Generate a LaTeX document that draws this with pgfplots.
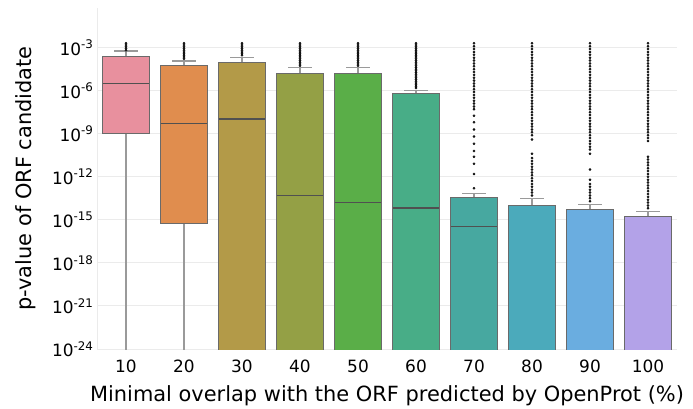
\documentclass[border=0pt]{standalone}
\usepackage{fontspec}
\setmainfont{DejaVu Sans}
\usepackage{pgfplots}
\pgfplotsset{compat=1.18}
\definecolor{c1}{HTML}{E8909E}
\definecolor{c2}{HTML}{E08D4E}
\definecolor{c3}{HTML}{B39A48}
\definecolor{c4}{HTML}{94A045}
\definecolor{c5}{HTML}{5AAE48}
\definecolor{c6}{HTML}{48AD87}
\definecolor{c7}{HTML}{47A8A0}
\definecolor{c8}{HTML}{4BAABB}
\definecolor{c9}{HTML}{6AADE0}
\definecolor{c10}{HTML}{B3A2E8}
\definecolor{edge}{HTML}{6A6A6A}
\definecolor{whisk}{HTML}{9A9A9A}
\definecolor{gridc}{HTML}{EBEBEB}
\pgfplotsset{
  outl/.style={only marks, mark=*, mark size=1.1pt, mark options={draw=none, fill=black!80}},
  wh/.style={draw=whisk, line width=1.2pt},
  bx/.style={fill=#1, draw=edge, line width=1pt},
  md/.style={draw=edge!75!black, line width=1.2pt},
}
% all values are log10 of the p-values; boxes: lower quartile, upper quartile; whiskers; medians
\begin{document}
\begin{tikzpicture}
\begin{axis}[name=ax, scale only axis, width=580bp, height=341bp,
  ymin=-24, ymax=-0.24, xmin=-0.5, xmax=9.5,
  xtick={0,...,9}, xticklabels={10,20,30,40,50,60,70,80,90,100},
  ytick={-24,-21,-18,-15,-12,-9,-6,-3},
  yticklabels={10\textsuperscript{-24},10\textsuperscript{-21},10\textsuperscript{-18},10\textsuperscript{-15},10\textsuperscript{-12},10\textsuperscript{-9},10\textsuperscript{-6},10\textsuperscript{-3}},
  ymajorgrids, grid style={gridc, line width=1pt},
  axis x line*=bottom, axis y line*=left,
  axis line style={gridc, line width=1pt},
  major tick length=0pt, minor tick length=0pt,
  tick label style={font=\fontsize{17}{17}\selectfont},
  xticklabel style={yshift=-7pt},
  every axis x label/.style={at={([yshift=-47bp]axis description cs:0.5,0)}, anchor=center, font=\fontsize{21}{21}\selectfont},
  every axis y label/.style={at={([xshift=-71bp]axis description cs:0,0.5)}, anchor=center, rotate=90, font=\fontsize{21}{21}\selectfont},
  xlabel={Minimal overlap with the ORF predicted by OpenProt (\%)},
  ylabel={p-value of ORF candidate},
  clip=true]
% upper whiskers and caps
\addplot[wh] coordinates {(0,-3.63)(0,-3.23)};   \addplot[wh] coordinates {(-0.2,-3.23)(0.2,-3.23)};
\addplot[wh] coordinates {(1,-4.27)(1,-3.93)};   \addplot[wh] coordinates {(0.8,-3.93)(1.2,-3.93)};
\addplot[wh] coordinates {(2,-4.04)(2,-3.67)};   \addplot[wh] coordinates {(1.8,-3.67)(2.2,-3.67)};
\addplot[wh] coordinates {(3,-4.78)(3,-4.39)};   \addplot[wh] coordinates {(2.8,-4.39)(3.2,-4.39)};
\addplot[wh] coordinates {(4,-4.78)(4,-4.39)};   \addplot[wh] coordinates {(3.8,-4.39)(4.2,-4.39)};
\addplot[wh] coordinates {(5,-6.18)(5,-5.99)};   \addplot[wh] coordinates {(4.8,-5.99)(5.2,-5.99)};
\addplot[wh] coordinates {(6,-13.42)(6,-13.14)}; \addplot[wh] coordinates {(5.8,-13.14)(6.2,-13.14)};
\addplot[wh] coordinates {(7,-13.97)(7,-13.5)};  \addplot[wh] coordinates {(6.8,-13.5)(7.2,-13.5)};
\addplot[wh] coordinates {(8,-14.3)(8,-13.92)};  \addplot[wh] coordinates {(7.8,-13.92)(8.2,-13.92)};
\addplot[wh] coordinates {(9,-14.8)(9,-14.41)};  \addplot[wh] coordinates {(8.8,-14.41)(9.2,-14.41)};
% lower whiskers (running below the axis)
\addplot[wh] coordinates {(0,-8.96)(0,-30)};
\addplot[wh] coordinates {(1,-15.23)(1,-30)};
% boxes
\addplot[bx=c1]  coordinates {(-0.4,-8.96)(0.4,-8.96)(0.4,-3.63)(-0.4,-3.63)} -- cycle;
\addplot[bx=c2]  coordinates {(0.6,-15.23)(1.4,-15.23)(1.4,-4.27)(0.6,-4.27)} -- cycle;
\addplot[bx=c3]  coordinates {(1.6,-30)(2.4,-30)(2.4,-4.04)(1.6,-4.04)} -- cycle;
\addplot[bx=c4]  coordinates {(2.6,-30)(3.4,-30)(3.4,-4.78)(2.6,-4.78)} -- cycle;
\addplot[bx=c5]  coordinates {(3.6,-30)(4.4,-30)(4.4,-4.78)(3.6,-4.78)} -- cycle;
\addplot[bx=c6]  coordinates {(4.6,-30)(5.4,-30)(5.4,-6.18)(4.6,-6.18)} -- cycle;
\addplot[bx=c7]  coordinates {(5.6,-30)(6.4,-30)(6.4,-13.42)(5.6,-13.42)} -- cycle;
\addplot[bx=c8]  coordinates {(6.6,-30)(7.4,-30)(7.4,-13.97)(6.6,-13.97)} -- cycle;
\addplot[bx=c9]  coordinates {(7.6,-30)(8.4,-30)(8.4,-14.3)(7.6,-14.3)} -- cycle;
\addplot[bx=c10] coordinates {(8.6,-30)(9.4,-30)(9.4,-14.8)(8.6,-14.8)} -- cycle;
% medians
\addplot[md] coordinates {(-0.4,-5.48)(0.4,-5.48)};
\addplot[md] coordinates {(0.6,-8.27)(1.4,-8.27)};
\addplot[md] coordinates {(1.6,-7.97)(2.4,-7.97)};
\addplot[md] coordinates {(2.6,-13.33)(3.4,-13.33)};
\addplot[md] coordinates {(3.6,-13.77)(4.4,-13.77)};
\addplot[md] coordinates {(4.6,-14.18)(5.4,-14.18)};
\addplot[md] coordinates {(5.6,-15.47)(6.4,-15.47)};
% outliers
\addplot[outl] coordinates {(0,-2.7)(0,-2.82)(0,-2.94)(0,-3.06)(0,-3.18)};
\addplot[outl] coordinates {(1,-2.7)(1,-2.82)(1,-2.94)(1,-3.06)(1,-3.18)(1,-3.3)(1,-3.42)(1,-3.54)(1,-3.66)(1,-3.78)};
\addplot[outl] coordinates {(2,-2.7)(2,-2.82)(2,-2.94)(2,-3.06)(2,-3.18)(2,-3.3)(2,-3.42)(2,-3.54)};
\addplot[outl] coordinates {(3,-2.7)(3,-2.82)(3,-2.94)(3,-3.06)(3,-3.18)(3,-3.3)(3,-3.42)(3,-3.54)(3,-3.66)(3,-3.78)(3,-3.9)(3,-4.02)(3,-4.14)(3,-4.26)};
\addplot[outl] coordinates {(4,-2.7)(4,-2.82)(4,-2.94)(4,-3.06)(4,-3.18)(4,-3.3)(4,-3.42)(4,-3.54)(4,-3.66)(4,-3.78)(4,-3.9)(4,-4.02)(4,-4.14)(4,-4.26)};
\addplot[outl] coordinates {(5,-2.7)(5,-2.82)(5,-2.94)(5,-3.06)(5,-3.18)(5,-3.3)(5,-3.42)(5,-3.54)(5,-3.66)(5,-3.78)(5,-3.9)(5,-4.02)(5,-4.14)(5,-4.26)(5,-4.38)(5,-4.5)(5,-4.62)(5,-4.74)(5,-4.86)(5,-4.98)(5,-5.1)(5,-5.22)(5,-5.34)(5,-5.46)(5,-5.58)(5,-5.7)(5,-5.82)};
\addplot[outl] coordinates {(6,-2.7)(6,-2.9)(6,-3.1)(6,-3.3)(6,-3.5)(6,-3.7)(6,-3.9)(6,-4.1)(6,-4.3)(6,-4.5)(6,-4.7)(6,-4.9)(6,-5.1)(6,-5.3)(6,-5.5)(6,-5.7)(6,-5.9)(6,-6.1)(6,-6.3)(6,-6.5)(6,-6.7)(6,-6.9)(6,-7.1)(6,-7.3)(6,-7.75)(6,-8.2)(6,-8.7)(6,-9.2)(6,-9.7)(6,-10.2)(6,-10.6)(6,-11.1)(6,-11.8)(6,-12.8)};
\addplot[outl] coordinates {(7,-2.7)(7,-2.9)(7,-3.1)(7,-3.3)(7,-3.5)(7,-3.7)(7,-3.9)(7,-4.1)(7,-4.3)(7,-4.5)(7,-4.7)(7,-4.9)(7,-5.1)(7,-5.3)(7,-5.5)(7,-5.7)(7,-5.9)(7,-6.1)(7,-6.3)(7,-6.5)(7,-6.7)(7,-6.9)(7,-7.1)(7,-7.3)(7,-7.5)(7,-7.7)(7,-7.9)(7,-8.1)(7,-8.3)(7,-8.5)(7,-8.7)(7,-8.9)(7,-9.1)(7,-9.4)(7,-10.4)(7,-10.7)(7,-10.9)(7,-11.1)(7,-11.3)(7,-11.5)(7,-11.7)(7,-11.9)(7,-12.1)(7,-12.3)(7,-12.5)(7,-12.7)(7,-12.9)(7,-13.1)(7,-13.3)};
\addplot[outl] coordinates {(8,-2.7)(8,-2.9)(8,-3.1)(8,-3.3)(8,-3.5)(8,-3.7)(8,-3.9)(8,-4.1)(8,-4.3)(8,-4.5)(8,-4.7)(8,-4.9)(8,-5.1)(8,-5.3)(8,-5.5)(8,-5.7)(8,-5.9)(8,-6.1)(8,-6.3)(8,-6.5)(8,-6.7)(8,-6.9)(8,-7.1)(8,-7.3)(8,-7.5)(8,-7.7)(8,-7.9)(8,-8.1)(8,-8.3)(8,-8.5)(8,-8.7)(8,-8.9)(8,-9.1)(8,-9.3)(8,-9.5)(8,-9.7)(8,-9.9)(8,-10.1)(8,-10.4)(8,-11.5)(8,-12.2)(8,-12.5)(8,-12.7)(8,-12.9)(8,-13.1)(8,-13.3)(8,-13.5)(8,-13.7)};
\addplot[outl] coordinates {(9,-2.7)(9,-2.9)(9,-3.1)(9,-3.3)(9,-3.5)(9,-3.7)(9,-3.9)(9,-4.1)(9,-4.3)(9,-4.5)(9,-4.7)(9,-4.9)(9,-5.1)(9,-5.3)(9,-5.5)(9,-5.7)(9,-5.9)(9,-6.1)(9,-6.3)(9,-6.5)(9,-6.7)(9,-6.9)(9,-7.1)(9,-7.3)(9,-7.5)(9,-7.7)(9,-7.9)(9,-8.1)(9,-8.3)(9,-8.5)(9,-8.7)(9,-8.9)(9,-9.1)(9,-9.3)(9,-9.5)(9,-10.6)(9,-10.8)(9,-11.0)(9,-11.2)(9,-11.4)(9,-11.6)(9,-11.8)(9,-12.0)(9,-12.2)(9,-12.4)(9,-12.6)(9,-12.8)(9,-13.0)(9,-13.2)(9,-13.4)(9,-13.6)(9,-13.8)(9,-14.0)(9,-14.2)};
\end{axis}
\pgfresetboundingbox
\path[use as bounding box] ([shift={(-97bp,-59bp)}]ax.south west) rectangle ([shift={(16bp,8bp)}]ax.north east);
\end{tikzpicture}
\end{document}
